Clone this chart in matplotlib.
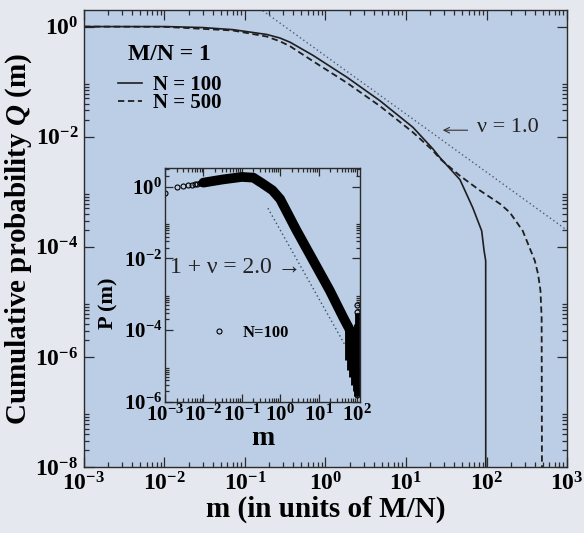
import numpy as np
import matplotlib
matplotlib.use("Agg")
import matplotlib.pyplot as plt
from matplotlib.ticker import FixedLocator, FuncFormatter, NullFormatter

plt.rcParams['font.family'] = ['Liberation Serif', 'DejaVu Serif']
plt.rcParams['font.weight'] = 'bold'
plt.rcParams['axes.labelweight'] = 'bold'
plt.rcParams['mathtext.fontset'] = 'custom'
plt.rcParams['mathtext.rm'] = 'Liberation Serif:bold'
plt.rcParams['mathtext.bf'] = 'Liberation Serif:bold'
plt.rcParams['mathtext.it'] = 'Liberation Serif:italic:bold'

# main panel: cumulative probability Q(m), M/N = 1
m_n100 = [0.001, 0.0107, 0.03, 0.0708, 0.186, 0.272, 0.363, 0.70, 1.85, 4.75,
          12.2, 21.6, 26.3, 46.8, 67.6, 87.1, 93.3, 97.7, 97.9]
q_n100 = [1.0, 1.0, 0.96, 0.88, 0.72, 0.62, 0.52, 0.30, 0.12, 0.045,
          0.0148, 0.006, 0.0042, 0.00166, 5.1e-4, 1.95e-4, 8.5e-5, 5.6e-5, 1e-9]

m_n500 = [0.001, 0.01, 0.0708, 0.186, 0.272, 0.363, 0.70, 1.85, 4.75, 12.2,
          21.6, 26.3, 46.8, 83.2, 148, 195, 282, 398, 437, 468, 484, 490]
q_n500 = [1.0, 0.99, 0.85, 0.66, 0.54, 0.44, 0.235, 0.095, 0.036, 0.012,
          0.0056, 0.004, 0.00195, 0.00105, 6.0e-4, 4.2e-4, 1.95e-4, 5.6e-5,
          3.2e-5, 1.6e-5, 5.1e-6, 1e-9]

# power law guide, nu = 1.0
guide_m = [0.166, 1000]
guide_q = [1.95, 2.0e-4]

# inset: P(m) for N = 100
sparse_m = [0.001, 0.002, 0.003, 0.004, 0.005, 0.006, 0.007, 0.008, 0.009, 0.010]
sparse_p = [0.66, 0.95, 1.05, 1.10, 1.14, 1.18, 1.21, 1.24, 1.27, 1.29]

band_m = [0.01, 0.0316, 0.1, 0.2, 0.355, 0.63, 1.0, 2.63, 7.18, 19.5, 43.7, 66]
band_p = [1.29, 1.58, 1.86, 1.78, 1.2, 0.79, 0.45, 0.062, 0.0089, 1.29e-3,
          2.3e-4, 1.0e-4]

spray_m = [56, 63, 71, 79, 87, 94, 100]
spray_lo = [1.5e-5, 8e-6, 5e-6, 3e-6, 2e-6, 1.5e-6, 1.5e-6]
spray_hi = [1.2e-4, 1.1e-4, 1.0e-4, 1.0e-4, 1.2e-4, 1.5e-4, 3e-4]

outlier_m = [100, 100, 98, 100]
outlier_p = [5e-4, 3.2e-4, 2.2e-6, 1.6e-6]

inset_guide_m = [0.48, 48]
inset_guide_p = [0.25, 4e-5]

FACE = '#bccde6'
EDGE = '#2b2b2b'


def pow_label(v, pos):
    if v <= 0:
        return ''
    e = int(round(np.log10(v)))
    return r'$\mathbf{10^{%d}}$' % e


def grace_minor(lo, hi, step):
    # minor ticks 2..9 only inside the decade above each major tick
    return [s * 10.0 ** e for e in range(lo, hi, step) for s in range(2, 10)]


def style_axis(ax, xmaj, xmin, ymaj, ymin, lsize, maj, mnr, pad):
    ax.set_xscale('log')
    ax.set_yscale('log')
    ax.xaxis.set_major_locator(FixedLocator(xmaj))
    ax.xaxis.set_minor_locator(FixedLocator(xmin))
    ax.yaxis.set_major_locator(FixedLocator(ymaj))
    ax.yaxis.set_minor_locator(FixedLocator(ymin))
    ax.xaxis.set_major_formatter(FuncFormatter(pow_label))
    ax.yaxis.set_major_formatter(FuncFormatter(pow_label))
    ax.xaxis.set_minor_formatter(NullFormatter())
    ax.yaxis.set_minor_formatter(NullFormatter())
    ax.tick_params(which='both', direction='in', top=True, right=True,
                   color=EDGE, width=0.9, labelsize=lsize, pad=pad)
    ax.tick_params(which='major', length=maj)
    ax.tick_params(which='minor', length=mnr)
    for s in ax.spines.values():
        s.set_color(EDGE)
        s.set_linewidth(1.0)
    ax.set_facecolor(FACE)


fig = plt.figure(figsize=(5.84, 5.33), dpi=100)
fig.patch.set_facecolor('#e5e8ef')

ax = fig.add_axes([0.1438, 0.1238, 0.8271, 0.8574])
style_axis(ax, [10.0 ** e for e in range(-3, 4)],
           grace_minor(-3, 3, 1),
           [10.0 ** e for e in range(-8, 1, 2)],
           [v for v in grace_minor(-8, 1, 2) if v < 2],
           17, 7.5, 3.6, 4)
ax.set_xlim(1e-3, 1e3)
ax.set_ylim(1e-8, 2)

ax.plot(m_n100, q_n100, color='#1e1e1e', lw=1.2, label='N = 100')
ax.plot(m_n500, q_n500, color='#1e1e1e', lw=1.3, ls=(0, (3.5, 2)), label='N = 500')
ax.plot(guide_m, guide_q, color='#4a5a72', lw=1.0, ls=(0, (1, 2)))

ax.set_xlabel('m (in units of M/N)', fontsize=21, fontweight='bold', labelpad=0)
ax.set_ylabel(r'Cumulative probability $Q$ (m)', fontsize=21, fontweight='bold',
              labelpad=1)

leg = ax.legend(title='M/N = 1', loc='upper left', bbox_to_anchor=(0.07, 0.925),
                frameon=False, borderaxespad=0, borderpad=0,
                handlelength=1.15, handletextpad=0.55, labelspacing=-0.1,
                prop={'size': 15, 'weight': 'bold'},
                title_fontproperties={'size': 17, 'weight': 'bold'})
leg._legend_box.sep = 7

ax.text(0.814, 0.742, 'ν = 1.0', transform=ax.transAxes, fontsize=16,
        fontweight='normal', va='center', ha='left', color='#222222')
ax.annotate('', xy=(0.737, 0.737), xytext=(0.80, 0.737),
            xycoords='axes fraction', textcoords='axes fraction',
            arrowprops=dict(arrowstyle='->', lw=0.8, color='#333333'))

# inset
axi = fig.add_axes([0.2825, 0.2458, 0.3339, 0.4390])
style_axis(axi, [10.0 ** e for e in range(-3, 3)],
           [v for v in grace_minor(-3, 3, 1) if v < 120],
           [10.0 ** e for e in range(-6, 1, 2)],
           [v for v in grace_minor(-6, 1, 2) if v < 3.3],
           15, 6, 3, 2)
axi.set_xlim(1e-3, 120)
axi.set_ylim(1e-6, 3.3)

axi.plot(band_m, band_p, color='black', lw=7, solid_capstyle='round')
axi.vlines(spray_m, spray_lo, spray_hi, color='black', lw=3.5)
axi.plot(inset_guide_m, inset_guide_p, color='#3c4c66', lw=1.0, ls=(0, (1, 2)))
axi.plot(sparse_m, sparse_p, 'o', mfc='none', mec='black', ms=3.6, mew=0.8,
         label='N=100')
axi.plot(outlier_m, outlier_p, 'o', mfc='none', mec='black', ms=3.6, mew=0.8)

axi.set_xlabel('m', fontsize=20, labelpad=0)
axi.set_ylabel('P (m)', fontsize=16, labelpad=1)
axi.yaxis.set_label_coords(-0.24, 0.42)

axi.legend(loc='upper left', bbox_to_anchor=(0.245, 0.33), frameon=False,
           borderaxespad=0, borderpad=0, handlelength=0.8, handletextpad=1.0,
           numpoints=1, prop={'size': 12, 'weight': 'bold'})

axi.text(0.026, 0.573, '1 + ν = 2.0 →', transform=axi.transAxes, fontsize=17,
         fontweight='normal', va='center', ha='left', color='#222222')

fig.savefig('out.png', dpi=100, facecolor=fig.get_facecolor())
